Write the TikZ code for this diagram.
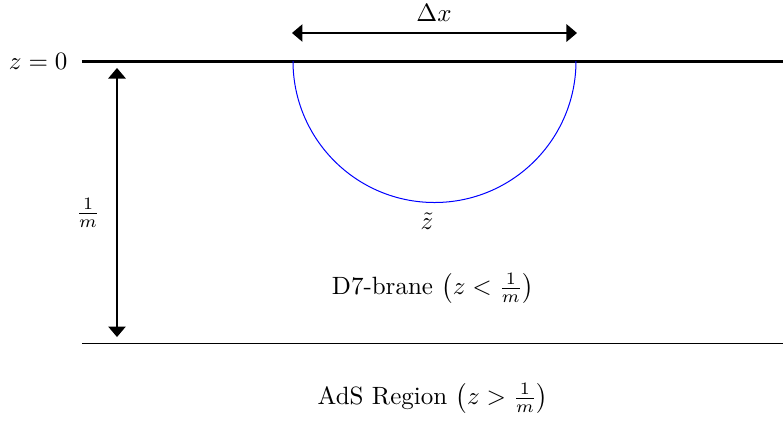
\documentclass[tikz,border=0pt]{standalone}
\usetikzlibrary{arrows.meta}
\begin{document}
\begin{tikzpicture}[x=0.4pt,y=-0.4pt,
  tip/.style={{Triangle[width=7pt,length=4.2pt]}-{Triangle[width=7pt,length=4.2pt]}}]
\useasboundingbox (0,0) rectangle (783,423);
% boundary z=0
\coordinate (b0l) at (82,61);
\coordinate (b0r) at (783,61);
\draw[line width=1.2pt] (b0l) -- (b0r);
\node[anchor=east, inner sep=0pt] (z0) at (68,61) {$z=0$};
% lower boundary
\coordinate (b1l) at (82,343);
\coordinate (b1r) at (783,343);
\draw[line width=0.4pt] (b1l) -- (b1r);
% semicircle
\coordinate (cl) at (293,61);
\coordinate (cr) at (576,61);
\draw[blue, line width=0.4pt] (cl) arc[start angle=180, end angle=360, x radius=141.5, y radius=-141.5];
\node (zt) at (427,221) {$\tilde z$};
% delta x
\coordinate (dl) at (292,33);
\coordinate (dr) at (577,33);
\draw[tip, line width=0.5pt] (dl) -- (dr);
\node (dx) at (434,13) {$\Delta x$};
% vertical arrow
\coordinate (vt) at (117,68);
\coordinate (vb) at (117,337);
\draw[tip, line width=0.5pt] (vt) -- (vb);
\node (vm) at (88,213) {$\frac{1}{m}$};
% region labels
\node (d7) at (433,288) {D7-brane $\left(z<\frac{1}{m}\right)$};
\node (ads) at (433,398) {AdS Region $\left(z>\frac{1}{m}\right)$};
\end{tikzpicture}
\end{document}
